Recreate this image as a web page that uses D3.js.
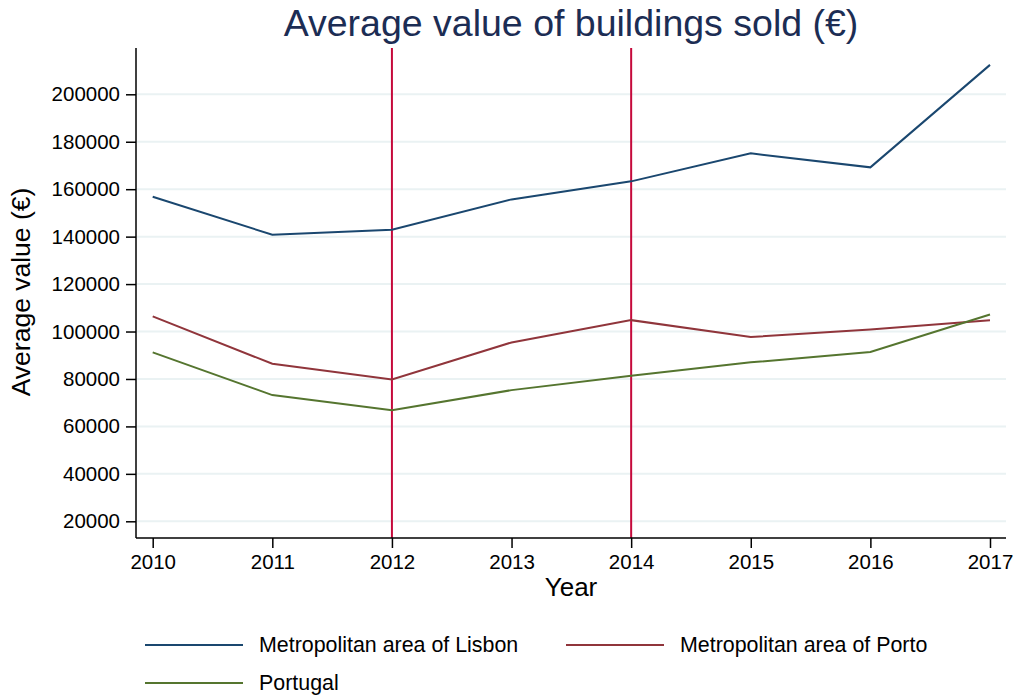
<!DOCTYPE html>
<html>
<head>
<meta charset="utf-8">
<script src="https://cdn.jsdelivr.net/npm/d3@7"></script>
<style>
body { margin: 0; background: #fff; }
text { font-family: "Liberation Sans", Arial, sans-serif; }
</style>
</head>
<body>
<div id="chart-area"></div>
<script>
// data
var years = [2010, 2011, 2012, 2013, 2014, 2015, 2016, 2017];
var lisbon   = [156800, 140800, 142900, 155700, 163300, 175100, 169200, 212400];
var porto    = [106400, 86400, 79800, 95400, 104800, 97700, 100900, 104800];
var portugal = [91200, 73200, 66800, 75300, 81400, 87000, 91400, 107200];
var seriesNames = ["Metropolitan area of Lisbon", "Metropolitan area of Porto", "Portugal"];
var yTicks = [20000, 40000, 60000, 80000, 100000, 120000, 140000, 160000, 180000, 200000];
var markYears = [2012, 2014];

var W = 1013, H = 698;
var colors = ["#1a476f", "#90353b", "#55752f"];

var svg = d3.select("#chart-area")
	.append("svg")
		.attr("width", W)
		.attr("height", H);

// plot box
var plotLeft = 136, plotRight = 1006, plotTop = 48, plotBottom = 538;

//x scale
var x = d3.scaleLinear()
		.domain([2010, 2017])
		.range([152.7, 990]);

//y scale
var y = d3.scaleLinear()
		.domain([20000, 200000])
		.range([521.3, 94.3]);

//gridlines
svg.append("g").selectAll("line")
	.data(yTicks)
	.enter().append("line")
		.attr("x1", plotLeft + 1).attr("x2", plotRight)
		.attr("y1", function(d){ return y(d); })
		.attr("y2", function(d){ return y(d); })
		.attr("stroke", "#eaf2f3")
		.attr("stroke-width", 2);

//vertical markers
svg.append("g").selectAll("line")
	.data(markYears)
	.enter().append("line")
		.attr("x1", function(d){ return x(d); })
		.attr("x2", function(d){ return x(d); })
		.attr("y1", plotTop).attr("y2", plotBottom)
		.attr("stroke", "#c5093b")
		.attr("stroke-width", 2);

//lines
var line = d3.line()
	.x(function(d, i){ return x(years[i]); })
	.y(function(d){ return y(d); });

[lisbon, porto, portugal].forEach(function(s, i){
	svg.append("path")
		.datum(s)
		.attr("d", line)
		.attr("fill", "none")
		.attr("stroke", colors[i])
		.attr("stroke-width", 2);
});

//y axis
var yAxis = svg.append("g")
	.attr("transform", "translate(" + plotLeft + ",0)")
	.call(d3.axisLeft(y).tickValues(yTicks).tickSize(10).tickPadding(6).tickFormat(d3.format("d")));
yAxis.select(".domain").remove();
yAxis.append("line")
	.attr("x1", 0).attr("x2", 0).attr("y1", plotTop).attr("y2", plotBottom)
	.attr("stroke", "#000").attr("stroke-width", 1.5);

//x axis
var xAxis = svg.append("g")
	.attr("transform", "translate(0," + plotBottom + ")")
	.call(d3.axisBottom(x).tickValues(years).tickSize(10).tickPadding(6).tickFormat(d3.format("d")));
xAxis.select(".domain").remove();
xAxis.append("line")
	.attr("x1", plotLeft).attr("x2", plotRight).attr("y1", 0).attr("y2", 0)
	.attr("stroke", "#000").attr("stroke-width", 1.5);

svg.selectAll(".tick line").attr("stroke", "#000").attr("stroke-width", 1.5);
svg.selectAll(".tick text")
	.attr("font-size", "20.5px")
	.attr("fill", "#000")
	.style("font-family", "'Liberation Sans', Arial, sans-serif");

//title
svg.append("text")
	.attr("x", 571)
	.attr("y", 36)
	.attr("text-anchor", "middle")
	.attr("font-size", "37.5px")
	.attr("fill", "#1c2d54")
	.text("Average value of buildings sold (€)");

//axis labels
svg.append("text")
	.attr("x", 571)
	.attr("y", 596)
	.attr("text-anchor", "middle")
	.attr("font-size", "26px")
	.text("Year");

svg.append("text")
	.attr("transform", "translate(30,292) rotate(-90)")
	.attr("text-anchor", "middle")
	.attr("font-size", "26.5px")
	.text("Average value (€)");

//legend
var legendPos = [[145, 645], [566, 645], [145, 683]];
seriesNames.forEach(function(name, i){
	var row = svg.append("g")
		.attr("transform", "translate(" + legendPos[i][0] + "," + legendPos[i][1] + ")");
	row.append("line")
		.attr("x1", 0).attr("x2", 98)
		.attr("stroke", colors[i])
		.attr("stroke-width", 2);
	row.append("text")
		.attr("x", 114)
		.attr("y", 7)
		.attr("font-size", "21.4px")
		.text(name);
});
</script>
</body>
</html>
